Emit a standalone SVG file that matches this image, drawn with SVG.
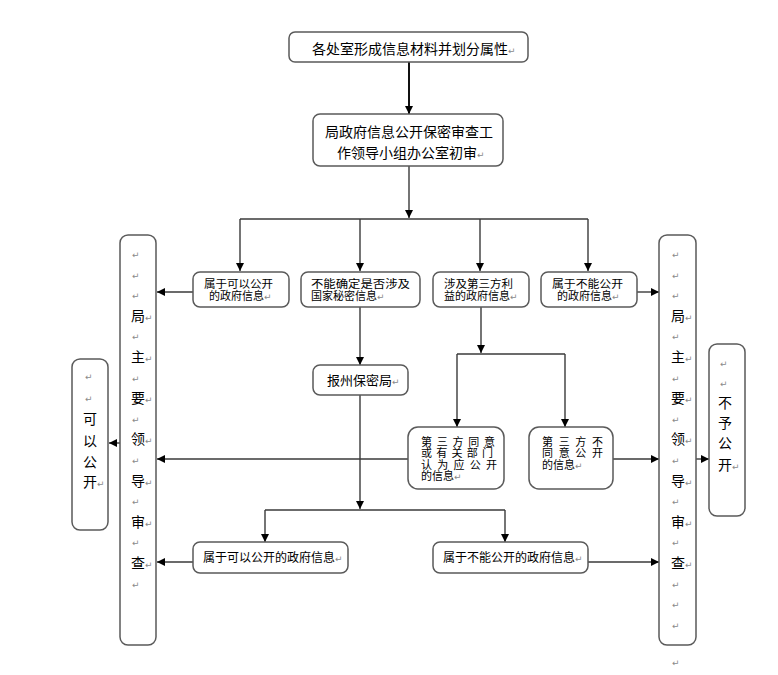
<svg xmlns="http://www.w3.org/2000/svg" width="778" height="675" viewBox="0 0 778 675">
<style>
.box{fill:#fff;stroke:#5a5a5a;stroke-width:1.5}
.t{font-family:"Noto Sans CJK SC","Noto Sans CJK TC",sans-serif;fill:#000}
.t14{font-size:14px}
.t13{font-size:13px}
.t12{font-size:12px}
.t11{font-size:11px}
.pm{font-family:"DejaVu Sans",sans-serif;font-size:9px;fill:#8a8a8a}
.c{fill:none;stroke:#3a3a3a;stroke-width:1.4}
.c2{fill:none;stroke:#111;stroke-width:2}
</style>
<defs>
<marker id="ah" markerUnits="userSpaceOnUse" markerWidth="9" markerHeight="8" refX="8" refY="4" orient="auto">
<path d="M0,0 L8,4 L0,8 z" fill="#000"/>
</marker>
</defs>
<rect width="778" height="675" fill="#fff"/>

<g id="connectors">
<line class="c2" x1="409" y1="62" x2="409" y2="114" marker-end="url(#ah)"/>
<line class="c" x1="409" y1="166" x2="409" y2="218" marker-end="url(#ah)"/>
<line class="c" x1="240" y1="219" x2="588" y2="219"/>
<line class="c" x1="240" y1="219" x2="240" y2="271" marker-end="url(#ah)"/>
<line class="c" x1="360" y1="219" x2="360" y2="271" marker-end="url(#ah)"/>
<line class="c" x1="480" y1="219" x2="480" y2="271" marker-end="url(#ah)"/>
<line class="c" x1="588" y1="219" x2="588" y2="271" marker-end="url(#ah)"/>
<line class="c" x1="193" y1="292" x2="157" y2="292" marker-end="url(#ah)"/>
<line class="c" x1="637" y1="292" x2="659" y2="292" marker-end="url(#ah)"/>
<line class="c" x1="360" y1="307" x2="360" y2="365" marker-end="url(#ah)"/>
<line class="c" x1="481" y1="307" x2="481" y2="353" marker-end="url(#ah)"/>
<line class="c" x1="457" y1="354" x2="565" y2="354"/>
<line class="c" x1="457" y1="354" x2="457" y2="427" marker-end="url(#ah)"/>
<line class="c" x1="565" y1="354" x2="565" y2="427" marker-end="url(#ah)"/>
<line class="c" x1="360" y1="395" x2="360" y2="509" marker-end="url(#ah)"/>
<line class="c" x1="265" y1="510" x2="505" y2="510"/>
<line class="c" x1="265" y1="510" x2="265" y2="542" marker-end="url(#ah)"/>
<line class="c" x1="505" y1="510" x2="505" y2="542" marker-end="url(#ah)"/>
<line class="c" x1="408" y1="459" x2="157" y2="459" marker-end="url(#ah)"/>
<line class="c" x1="613" y1="459" x2="659" y2="459" marker-end="url(#ah)"/>
<line class="c" x1="120" y1="443" x2="109" y2="443" marker-end="url(#ah)"/>
<line class="c" x1="696" y1="459" x2="709" y2="459" marker-end="url(#ah)"/>
<line class="c" x1="193" y1="562" x2="157" y2="562" marker-end="url(#ah)"/>
<line class="c" x1="588" y1="562" x2="659" y2="562" marker-end="url(#ah)"/>
</g>

<g id="n-source">
<rect class="box" x="289" y="32" width="239" height="30" rx="6"/>
<text class="t t14" x="312" y="54">各处室形成信息材料并划分属性<tspan class="pm">↵</tspan></text>
</g>

<g id="n-initial-review">
<rect class="box" x="313" y="114" width="190" height="52" rx="7"/>
<text class="t t14" x="325" y="137">局政府信息公开保密审查工</text>
<text class="t t14" x="337" y="158">作领导小组办公室初审<tspan class="pm">↵</tspan></text>
</g>

<g id="n-can-public">
<rect class="box" x="193" y="272" width="96" height="35" rx="7"/>
<text class="t t11" x="204" y="288" textLength="69" lengthAdjust="spacingAndGlyphs">属于可以公开</text>
<text class="t t11" x="209" y="300">的政府信息<tspan class="pm">↵</tspan></text>
</g>

<g id="n-uncertain">
<rect class="box" x="301" y="272" width="119" height="35" rx="7"/>
<text class="t t11" x="311" y="288" textLength="99" lengthAdjust="spacingAndGlyphs">不能确定是否涉及</text>
<text class="t t11" x="311" y="300">国家秘密信息<tspan class="pm">↵</tspan></text>
</g>

<g id="n-third-party">
<rect class="box" x="433" y="272" width="96" height="35" rx="7"/>
<text class="t t11" x="444" y="288" textLength="69" lengthAdjust="spacingAndGlyphs">涉及第三方利</text>
<text class="t t11" x="444" y="300">益的政府信息<tspan class="pm">↵</tspan></text>
</g>

<g id="n-cannot-public">
<rect class="box" x="541" y="272" width="96" height="35" rx="7"/>
<text class="t t11" x="552" y="288" textLength="71" lengthAdjust="spacingAndGlyphs">属于不能公开</text>
<text class="t t11" x="557" y="300">的政府信息<tspan class="pm">↵</tspan></text>
</g>

<g id="n-secrecy-bureau">
<rect class="box" x="313" y="365" width="95" height="30" rx="7"/>
<text class="t t13" x="327" y="385">报州保密局<tspan class="pm">↵</tspan></text>
</g>

<g id="n-agree">
<rect class="box" x="408" y="427" width="96" height="62" rx="10"/>
<text class="t t11" x="421" y="445.5" textLength="74" lengthAdjust="spacing">第三方同意</text>
<text class="t t11" x="421" y="457" textLength="72" lengthAdjust="spacing">或有关部门</text>
<text class="t t11" x="421" y="468.5" textLength="76" lengthAdjust="spacing">认为应公开</text>
<text class="t t11" x="421" y="480">的信息<tspan class="pm">↵</tspan></text>
</g>

<g id="n-disagree">
<rect class="box" x="529" y="427" width="84" height="62" rx="10"/>
<text class="t t11" x="542" y="445.5" textLength="61" lengthAdjust="spacing">第三方不</text>
<text class="t t11" x="542" y="457" textLength="61" lengthAdjust="spacing">同意公开</text>
<text class="t t11" x="542" y="468.5">的信息<tspan class="pm">↵</tspan></text>
</g>

<g id="n-final-can">
<rect class="box" x="193" y="542" width="155" height="31" rx="7"/>
<text class="t t12" x="203" y="561.5">属于可以公开的政府信息<tspan class="pm">↵</tspan></text>
</g>

<g id="n-final-cannot">
<rect class="box" x="433" y="542" width="155" height="31" rx="7"/>
<text class="t t12" x="443" y="561.5">属于不能公开的政府信息<tspan class="pm">↵</tspan></text>
</g>

<g id="n-leader-left">
<rect class="box" x="120" y="235" width="36" height="410" rx="8"/>
<text class="pm" x="132" y="258">↵</text>
<text class="pm" x="132" y="278.6">↵</text>
<text class="pm" x="132" y="299.2">↵</text>
<text class="t t14" x="131" y="321">局<tspan class="pm">↵</tspan></text>
<text class="pm" x="132" y="340.4">↵</text>
<text class="t t14" x="131" y="362">主<tspan class="pm">↵</tspan></text>
<text class="pm" x="132" y="381.6">↵</text>
<text class="t t14" x="131" y="403">要<tspan class="pm">↵</tspan></text>
<text class="pm" x="132" y="422.8">↵</text>
<text class="t t14" x="131" y="444.4">领<tspan class="pm">↵</tspan></text>
<text class="pm" x="132" y="464">↵</text>
<text class="t t14" x="131" y="485.6">导<tspan class="pm">↵</tspan></text>
<text class="pm" x="132" y="505.2">↵</text>
<text class="t t14" x="131" y="526.8">审<tspan class="pm">↵</tspan></text>
<text class="pm" x="132" y="546.4">↵</text>
<text class="t t14" x="131" y="568">查<tspan class="pm">↵</tspan></text>
<text class="pm" x="132" y="587.6">↵</text>
</g>

<g id="n-leader-right">
<rect class="box" x="659" y="235" width="37" height="410" rx="8"/>
<text class="pm" x="672" y="258">↵</text>
<text class="pm" x="672" y="278.6">↵</text>
<text class="pm" x="672" y="299.2">↵</text>
<text class="t t14" x="671" y="321">局<tspan class="pm">↵</tspan></text>
<text class="pm" x="672" y="340.4">↵</text>
<text class="t t14" x="671" y="362">主<tspan class="pm">↵</tspan></text>
<text class="pm" x="672" y="381.6">↵</text>
<text class="t t14" x="671" y="403">要<tspan class="pm">↵</tspan></text>
<text class="pm" x="672" y="422.8">↵</text>
<text class="t t14" x="671" y="444.4">领<tspan class="pm">↵</tspan></text>
<text class="pm" x="672" y="464">↵</text>
<text class="t t14" x="671" y="485.6">导<tspan class="pm">↵</tspan></text>
<text class="pm" x="672" y="505.2">↵</text>
<text class="t t14" x="671" y="526.8">审<tspan class="pm">↵</tspan></text>
<text class="pm" x="672" y="546.4">↵</text>
<text class="t t14" x="671" y="568">查<tspan class="pm">↵</tspan></text>
<text class="pm" x="672" y="587.6">↵</text>
<text class="pm" x="672" y="608.2">↵</text>
<text class="pm" x="672" y="628.8">↵</text>
</g>
<text class="pm" x="672" y="666">↵</text>

<g id="n-public">
<rect class="box" x="72" y="359" width="36" height="171" rx="8"/>
<text class="pm" x="85" y="380">↵</text>
<text class="pm" x="85" y="402">↵</text>
<text class="t t14" x="83" y="424">可</text>
<text class="t t14" x="83" y="446">以</text>
<text class="t t14" x="83" y="467">公</text>
<text class="t t14" x="83" y="487">开<tspan class="pm">↵</tspan></text>
</g>

<g id="n-not-public">
<rect class="box" x="709" y="344" width="36" height="172" rx="8"/>
<text class="pm" x="720" y="367">↵</text>
<text class="pm" x="720" y="387">↵</text>
<text class="t t14" x="718" y="408">不</text>
<text class="t t14" x="718" y="428">予</text>
<text class="t t14" x="718" y="448">公</text>
<text class="t t14" x="718" y="470">开<tspan class="pm">↵</tspan></text>
</g>
</svg>
